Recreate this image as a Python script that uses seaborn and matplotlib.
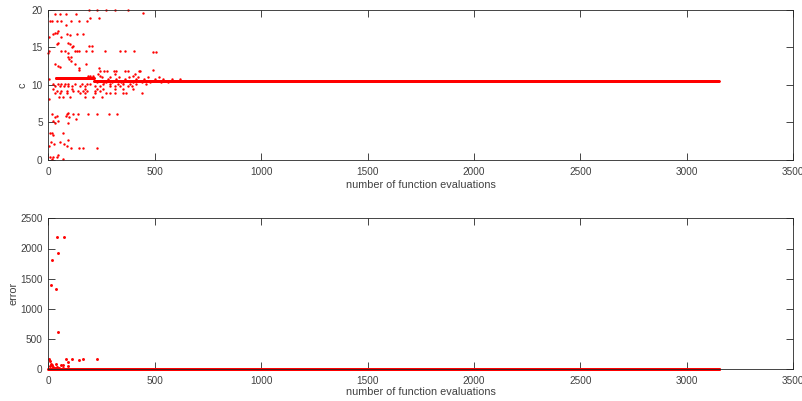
import numpy as np
import pandas as pd
import seaborn as sns
import matplotlib
matplotlib.use("Agg")
import matplotlib.pyplot as plt

# ---- parameter c per function evaluation -------------------------------
# scattered early trial points (evaluation number, c)
c_evals = [192, 227, 273, 312, 375, 445,
           31, 55, 81, 130, 198, 236,
           8, 16, 42, 62, 106, 144, 180, 83, 47, 31, 39,
           23, 86, 137, 164, 102, 5, 58, 47, 94, 42, 102,
           114, 192, 205, 109,
           5, 62, 78, 125, 136, 145, 177, 206, 266, 336, 359, 403, 492, 505,
           0, 91, 94, 105, 97, 106, 31, 125, 177, 47, 55, 142, 239, 145, 492,
           242, 261, 277, 309, 317, 359, 375, 427, 433, 234, 312, 409,
           187, 195, 211, 242, 398, 3,
           23, 47, 62, 78, 94, 125, 156, 180, 195, 258, 289, 328, 352, 383, 414, 461,
           31, 55, 75, 94, 109, 148, 172, 219, 242, 289, 312, 336, 375, 391,
           23, 109, 172, 227, 258, 312, 352, 398,
           39, 62, 86, 117, 141, 164, 180, 219, 242,
           31, 55, 86, 148, 172, 219, 273, 289, 312, 352, 367, 440,
           52, 70, 102, 172, 211, 250, 3,
           94, 19, 86, 114, 138, 188, 227, 286, 323, 39, 81, 31, 97, 130,
           23, 47, 31, 94, 8, 16, 70, 23, 94, 12, 55, 28, 73, 3, 86,
           106, 145, 161, 227, 47, 8, 23, 42, 16, 70]
c_values = [19.9, 19.9, 19.9, 19.9, 19.9, 19.6,
            19.4, 19.4, 19.4, 19.4, 18.9, 18.9,
            18.5, 18.5, 18.5, 18.5, 18.5, 18.5, 18.5, 17.9, 17.2, 16.9, 16.9,
            16.7, 16.7, 16.7, 16.7, 16.6, 16.3, 16.3, 15.6, 15.6, 15.4, 15.4,
            15.1, 15.1, 15.1, 15.0,
            14.5, 14.5, 14.5, 14.5, 14.5, 14.5, 14.5, 14.5, 14.5, 14.5, 14.5, 14.5, 14.3, 14.3,
            14.2, 14.2, 13.7, 13.7, 13.4, 13.1, 12.8, 12.8, 12.8, 12.5, 12.4, 12.2, 12.2, 12.0, 12.0,
            11.8, 11.8, 11.8, 11.8, 11.8, 11.8, 11.8, 11.8, 11.8, 11.4, 11.4, 11.4,
            11.2, 11.2, 11.2, 11.2, 11.2, 10.75,
            10.1, 10.1, 10.1, 10.1, 10.1, 10.1, 10.1, 10.1, 10.1, 10.1, 10.1, 10.1, 10.1, 10.1, 10.1, 10.1,
            9.8, 9.8, 9.8, 9.8, 9.8, 9.8, 9.8, 9.8, 9.8, 9.8, 9.8, 9.8, 9.8, 9.8,
            9.5, 9.5, 9.5, 9.5, 9.5, 9.5, 9.5, 9.5,
            9.2, 9.2, 9.2, 9.2, 9.2, 9.2, 9.2, 9.2, 9.2,
            8.85, 8.85, 8.85, 8.85, 8.85, 8.85, 8.85, 8.85, 8.85, 8.85, 8.85, 8.9,
            8.4, 8.4, 8.4, 8.4, 8.4, 8.4, 8.05,
            6.3, 6.1, 6.1, 6.1, 6.1, 6.1, 6.1, 6.1, 6.1, 5.8, 5.8, 5.7, 5.7, 5.5,
            5.2, 5.2, 4.95, 4.95, 3.6, 3.6, 3.6, 3.3, 2.7, 2.4, 2.4, 2.1, 2.1, 1.8, 1.8,
            1.55, 1.55, 1.55, 1.55, 0.65, 0.45, 0.45, 0.45, 0.1, 0.1]

# jitter around the settling band
band_evals = [250, 290, 330, 380, 420, 470, 520,
              260, 300, 350, 400, 440, 480, 530, 560,
              280, 320, 360, 410, 450, 500, 540, 580, 620,
              230, 270, 340, 390, 430, 460, 510, 550, 600, 640]
band_values = [11.0, 11.0, 11.0, 11.0, 11.0, 11.0, 11.0,
               10.3, 10.3, 10.3, 10.3, 10.3, 10.3, 10.3, 10.3,
               10.8, 10.8, 10.8, 10.8, 10.8, 10.8, 10.8, 10.8, 10.8,
               10.4, 10.4, 10.4, 10.45, 10.45, 10.45, 10.45, 10.5, 10.5, 10.5]

# runs of consecutive evaluations that hold one value (start, end, c)
c_run_start = [35, 215]
c_run_end = [215, 3150]
c_run_value = [10.85, 10.55]

# ---- error per function evaluation --------------------------------------
err_evals = [39, 73, 45, 19, 11, 37, 47,
             3, 83, 109, 144, 161, 227, 8, 94, 11, 36, 19, 58, 67, 8, 94,
             23, 42, 30, 50, 70]
err_values = [2191, 2191, 1932, 1816, 1391, 1325, 618,
              177, 177, 172, 160, 177, 177, 143, 127, 88, 88, 72, 72, 72, 55, 55,
              33, 33, 15, 15, 15]
err_run_start = [0]
err_run_end = [3150]
err_run_value = [0.0]

x_ticks = [0, 500, 1000, 1500, 2000, 2500, 3000, 3500]
c_ticks = [0, 5, 10, 15, 20]
err_ticks = [0, 500, 1000, 1500, 2000, 2500]
x_label = "number of function evaluations"


def runs_frame(starts, ends, values):
    parts = []
    for s, e, v in zip(starts, ends, values):
        ev = np.arange(s, e + 1)
        parts.append(pd.DataFrame({"evals": ev, "value": np.full(ev.size, v)}))
    return pd.concat(parts, ignore_index=True)


c_df = pd.concat([
    pd.DataFrame({"evals": c_evals, "value": c_values}),
    pd.DataFrame({"evals": band_evals, "value": band_values}),
    runs_frame(c_run_start, c_run_end, c_run_value),
], ignore_index=True)

err_df = pd.concat([
    pd.DataFrame({"evals": err_evals, "value": err_values}),
    runs_frame(err_run_start, err_run_end, err_run_value),
], ignore_index=True)

sns.set_theme(style="ticks")
ink = "#262626"
label_ink = "#404040"
plt.rcParams.update({
    "font.family": ["Liberation Sans", "DejaVu Sans"],
    "axes.edgecolor": ink,
    "axes.linewidth": 0.6,
    "xtick.color": ink,
    "ytick.color": ink,
    "xtick.labelcolor": label_ink,
    "ytick.labelcolor": label_ink,
    "text.color": label_ink,
    "axes.labelcolor": label_ink,
})

fig = plt.figure(figsize=(8.03, 4.01), dpi=100)
W, H = 803, 401
ax_top = fig.add_axes([48.3 / W, 1 - 160 / H, 745 / W, 150.5 / H])
ax_bot = fig.add_axes([48.3 / W, 1 - 369.3 / H, 745 / W, 151 / H])

for ax, df, yt, ylab, ylim, ylab_x, xlab_y, msize in [
    (ax_top, c_df, c_ticks, "c", (0, 20), (23 - 48.3) / 745, -0.166, 3.0),
    (ax_bot, err_df, err_ticks, "error", (0, 2500), (14 - 48.3) / 745, -0.150, 4.5),
]:
    sns.scatterplot(data=df, x="evals", y="value", ax=ax, color="#ff0000",
                    marker="o", s=msize, linewidth=0, clip_on=False, legend=False)
    ax.set_xlim(0, 3500)
    ax.set_ylim(*ylim)
    ax.set_xticks(x_ticks)
    ax.set_yticks(yt)
    ax.tick_params(direction="in", length=5.3, width=0.6, top=True, right=True,
                   labelsize=7.2, pad=4)
    ax.tick_params(axis="x", pad=5)
    for sp in ax.spines.values():
        sp.set_visible(True)
        sp.set_color(ink)
        sp.set_linewidth(0.6)
    ax.set_xlabel(x_label, fontsize=7.8)
    ax.set_ylabel(ylab, fontsize=7.8)
    ax.xaxis.set_label_coords(0.5, xlab_y)
    ax.xaxis.label.set_va("center")
    ax.yaxis.set_label_coords(ylab_x, 0.5)
    ax.yaxis.label.set_va("center")

fig.savefig("out.png", dpi=100)
